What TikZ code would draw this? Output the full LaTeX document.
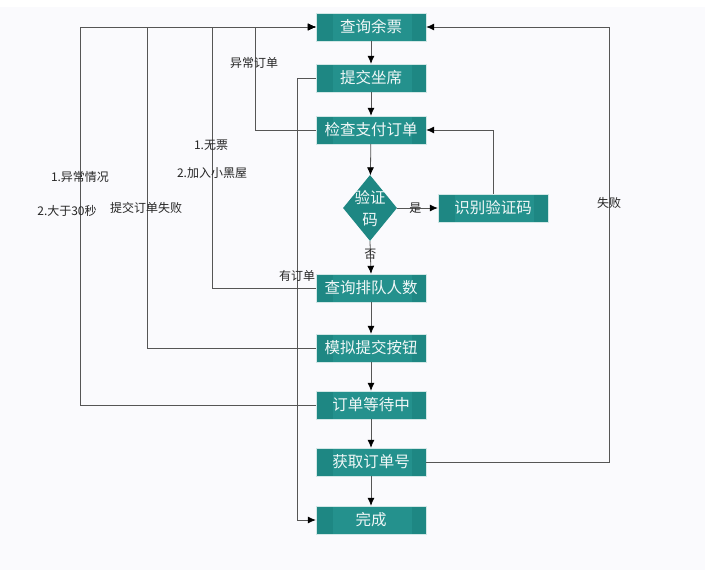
\documentclass[tikz,border=0pt]{standalone}
\usepackage{fontspec}
\setmainfont{Noto Sans CJK SC}
\usetikzlibrary{shapes.geometric,arrows.meta}
\definecolor{tealout}{HTML}{1E8783}
\definecolor{tealin}{HTML}{24918D}
\definecolor{bgc}{HTML}{FAFAFD}
\definecolor{linec}{HTML}{555555}
\tikzset{
  procbox/.style={rectangle, minimum width=110pt, minimum height=28pt, inner sep=0pt,
    fill=tealout, draw=white!80!tealout, line width=0.4pt, text=white!94!teal,
    font=\fontsize{15.5}{18}\selectfont,
    path picture={\fill[tealin] ([xshift=17pt]path picture bounding box.south west) rectangle ([xshift=-14pt]path picture bounding box.north east);}},
  decision/.style={diamond, minimum width=54pt, minimum height=66pt, inner sep=0pt, fill=tealout, draw=none},
  dtext/.style={text=white!94!teal, font=\fontsize{15.5}{22}\selectfont, align=center},
  conn/.style={draw=linec, line width=0.8pt},
  arr/.style={conn, -{Latex[length=8pt,width=7pt,color=black]}},
  lbl/.style={text=black!85, font=\fontsize{12}{14}\selectfont, inner sep=1pt}
}
\begin{document}
\begin{tikzpicture}[x=1pt,y=-1pt]
\useasboundingbox (0,0) rectangle (720,570);
\fill[bgc] (0,7) rectangle (705,570);
% boxes
\node[procbox] (q1) at (371,27) {查询余票};
\node[procbox] (q2) at (371,78) {提交坐席};
\node[procbox] (q3) at (371,130) {检查支付订单};
\node[decision] (d) at (370,208) {};
\node[dtext] (dt) at (370,209) {验证\\码};
\node[procbox] (sb) at (493,208) {识别验证码};
\node[procbox] (q4) at (371,288) {查询排队人数};
\node[procbox] (q5) at (371,348) {模拟提交按钮};
\node[procbox] (q6) at (371,405) {订单等待中};
\node[procbox] (q8) at (371,462) {获取订单号};
\node[procbox] (q9) at (371,520) {完成};
% coordinates
\coordinate (c1) at (255,27);
\coordinate (c2) at (212,27);
\coordinate (c3) at (147,27);
\coordinate (c4) at (80,27);
\coordinate (c5) at (297,78);
\coordinate (c6) at (609,27);
% main flow
\draw[arr] (q1) -- (q2);
\draw[arr] (q2) -- (q3);
\draw[arr] (q3) -- (d);
\draw[arr] (d.east) -- node[lbl, pos=0.45] (lyes) {是} (sb.west);
\draw[arr] (d.south) -- node[lbl, pos=0.4] (lno) {否} (q4.north);
\draw[arr] (q4) -- (q5);
\draw[arr] (q5) -- (q6);
\draw[arr] (q6) -- (q8);
\draw[arr] (q8) -- (q9);
\draw[arr] (sb.north) |- (q3.east);
% left loops
\draw[arr] (q3.west) -| (c1) -- (q1.west);
\draw[arr] (q4.west) -| (c2) -- (q1.west);
\draw[arr] (q5.west) -| (c3) -- (q1.west);
\draw[arr] (q6.west) -| (c4) -- (q1.west);
\draw[arr] (q2.west) -- (c5) |- (q9.west);
% right loop
\draw[arr] (q8.east) -| (c6) -- (q1.east);
% labels
\node[lbl] (l1) at (254,63) {异常订单};
\node[lbl] (l2) at (211,145) {1.无票};
\node[lbl] (l3) at (212,173) {2.加入小黑屋};
\node[lbl] (l4) at (146,208) {提交订单失败};
\node[lbl] (l5) at (80,177) {1.异常情况};
\node[lbl] (l6) at (67,211) {2.大于30秒};
\node[lbl] (l7) at (297,276) {有订单};
\node[lbl] (l8) at (609,203) {失败};
\end{tikzpicture}
\end{document}
